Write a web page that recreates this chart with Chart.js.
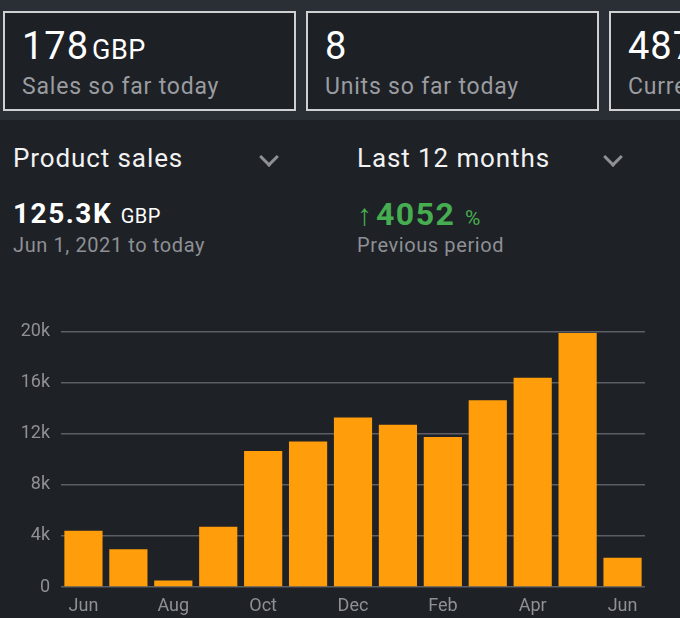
<!DOCTYPE html>
<html>
<head>
<meta charset="utf-8">
<script src="https://cdn.jsdelivr.net/npm/chart.js@4"></script>
<style>
  body { margin: 0; width: 680px; height: 618px; overflow: hidden; background: #1e2126; font-family: Roboto, "Noto Sans", sans-serif; position: relative; }
  .strip { position: absolute; left: 0; top: 0; width: 680px; height: 120px; background: #2a2e35; }
  .card { position: absolute; top: 11px; width: 289px; height: 96px; border: 2px solid #cfd0d2; background: #1d2025; box-sizing: content-box; }
  .big { position: absolute; left: 17px; top: 13px; color: #fff; font-size: 38px; line-height: 40px; letter-spacing: 1px; white-space: nowrap; }
  .big small { font-size: 27px; letter-spacing: 0.5px; margin-left: 3px; }
  .lbl { position: absolute; left: 17px; top: 60px; color: #9a9ca0; font-size: 23px; line-height: 28px; letter-spacing: 0.8px; white-space: nowrap; }
  .txt { position: absolute; white-space: nowrap; }
  .hdr { color: #f2f2f2; font-size: 26px; line-height: 30px; letter-spacing: 0.9px; top: 143px; }
  .chev { position: absolute; top: 150px; width: 11px; height: 11px; border-right: 3px solid #8e9095; border-bottom: 3px solid #8e9095; transform: rotate(45deg); }
  .val { color: #fff; font-size: 28px; line-height: 34px; font-weight: bold; letter-spacing: 1.5px; top: 197px; }
  .val small { font-size: 20px; font-weight: normal; letter-spacing: 0.5px; }
  .green { color: #46ad50; font-size: 32px; letter-spacing: 1.5px; }
  .green .arr { font-weight: normal; font-size: 30px; letter-spacing: 0; margin-right: 4px; }
  .green small { color: #46ad50; font-size: 21px; }
  .sub { color: #8e9095; font-size: 20px; line-height: 24px; letter-spacing: 0.6px; top: 233px; }
  #wrap { position: absolute; left: 0; top: 310px; width: 680px; height: 308px; }
</style>
</head>
<body>
<div class="strip"></div>
<div class="card" style="left:3px"><div class="big">178<small>GBP</small></div><div class="lbl">Sales so far today</div></div>
<div class="card" style="left:306px"><div class="big">8</div><div class="lbl">Units so far today</div></div>
<div class="card" style="left:609px"><div class="big">487</div><div class="lbl">Current</div></div>

<div class="txt hdr" style="left:13px">Product sales</div>
<div class="chev" style="left:262px"></div>
<div class="txt hdr" style="left:357px">Last 12 months</div>
<div class="chev" style="left:606px"></div>

<div class="txt val" style="left:13px">125.3K <small>GBP</small></div>
<div class="txt sub" style="left:13px">Jun 1, 2021 to today</div>
<div class="txt val green" style="left:357px"><span class="arr">&#8593;</span>4052 <small>%</small></div>
<div class="txt sub" style="left:357px">Previous period</div>

<div id="wrap"><canvas id="bar-chart"></canvas></div>

<script>
// Monthly product sales, Jun 2021 - Jun 2022 (GBP)
const months = ["Jun", "Jul", "Aug", "Sep", "Oct", "Nov", "Dec", "Jan", "Feb", "Mar", "Apr", "May", "Jun"];
const sales = [4400, 2950, 500, 4730, 10650, 11400, 13290, 12710, 11760, 14630, 16390, 19900, 2300];
const yTicks = [0, 4000, 8000, 12000, 16000, 20000];
const yLabels = ["0", "4k", "8k", "12k", "16k", "20k"];

const ctx = document.getElementById("bar-chart").getContext("2d");
const barChart = new Chart(ctx, {
  type: "bar",
  data: {
    labels: months,
    datasets: [
      {
        label: "Product sales",
        data: sales,
        backgroundColor: "#ff9d0a",
        barPercentage: 0.85,
        categoryPercentage: 1,
      },
    ],
  },
  options: {
    responsive: true,
    maintainAspectRatio: false,
    animation: false,
    layout: { padding: { top: 15, right: 35, bottom: 0, left: 0 } },
    plugins: { legend: { display: false }, tooltip: { enabled: false } },
    scales: {
      x: {
        grid: { display: false },
        border: { display: false },
        ticks: {
          color: "#8e9095",
          font: { size: 18, family: "Roboto" },
          maxRotation: 0,
          autoSkip: false,
          padding: 1,
          callback: (v, i) => (i % 2 === 0 ? months[i] : ""),
        },
        afterFit: (s) => { s.height = 31; },
      },
      y: {
        min: 0,
        max: 20000,
        afterBuildTicks: (s) => { s.ticks = yTicks.map((v) => ({ value: v })); },
        grid: { color: "#5b5f65", lineWidth: 1.5, drawTicks: false },
        border: { display: false },
        ticks: {
          color: "#8e9095",
          font: { size: 18, family: "Roboto" },
          padding: 11,
          callback: (v) => yLabels[yTicks.indexOf(v)],
        },
        afterFit: (s) => { s.width = 61; },
      },
    },
  },
});
</script>
</body>
</html>
